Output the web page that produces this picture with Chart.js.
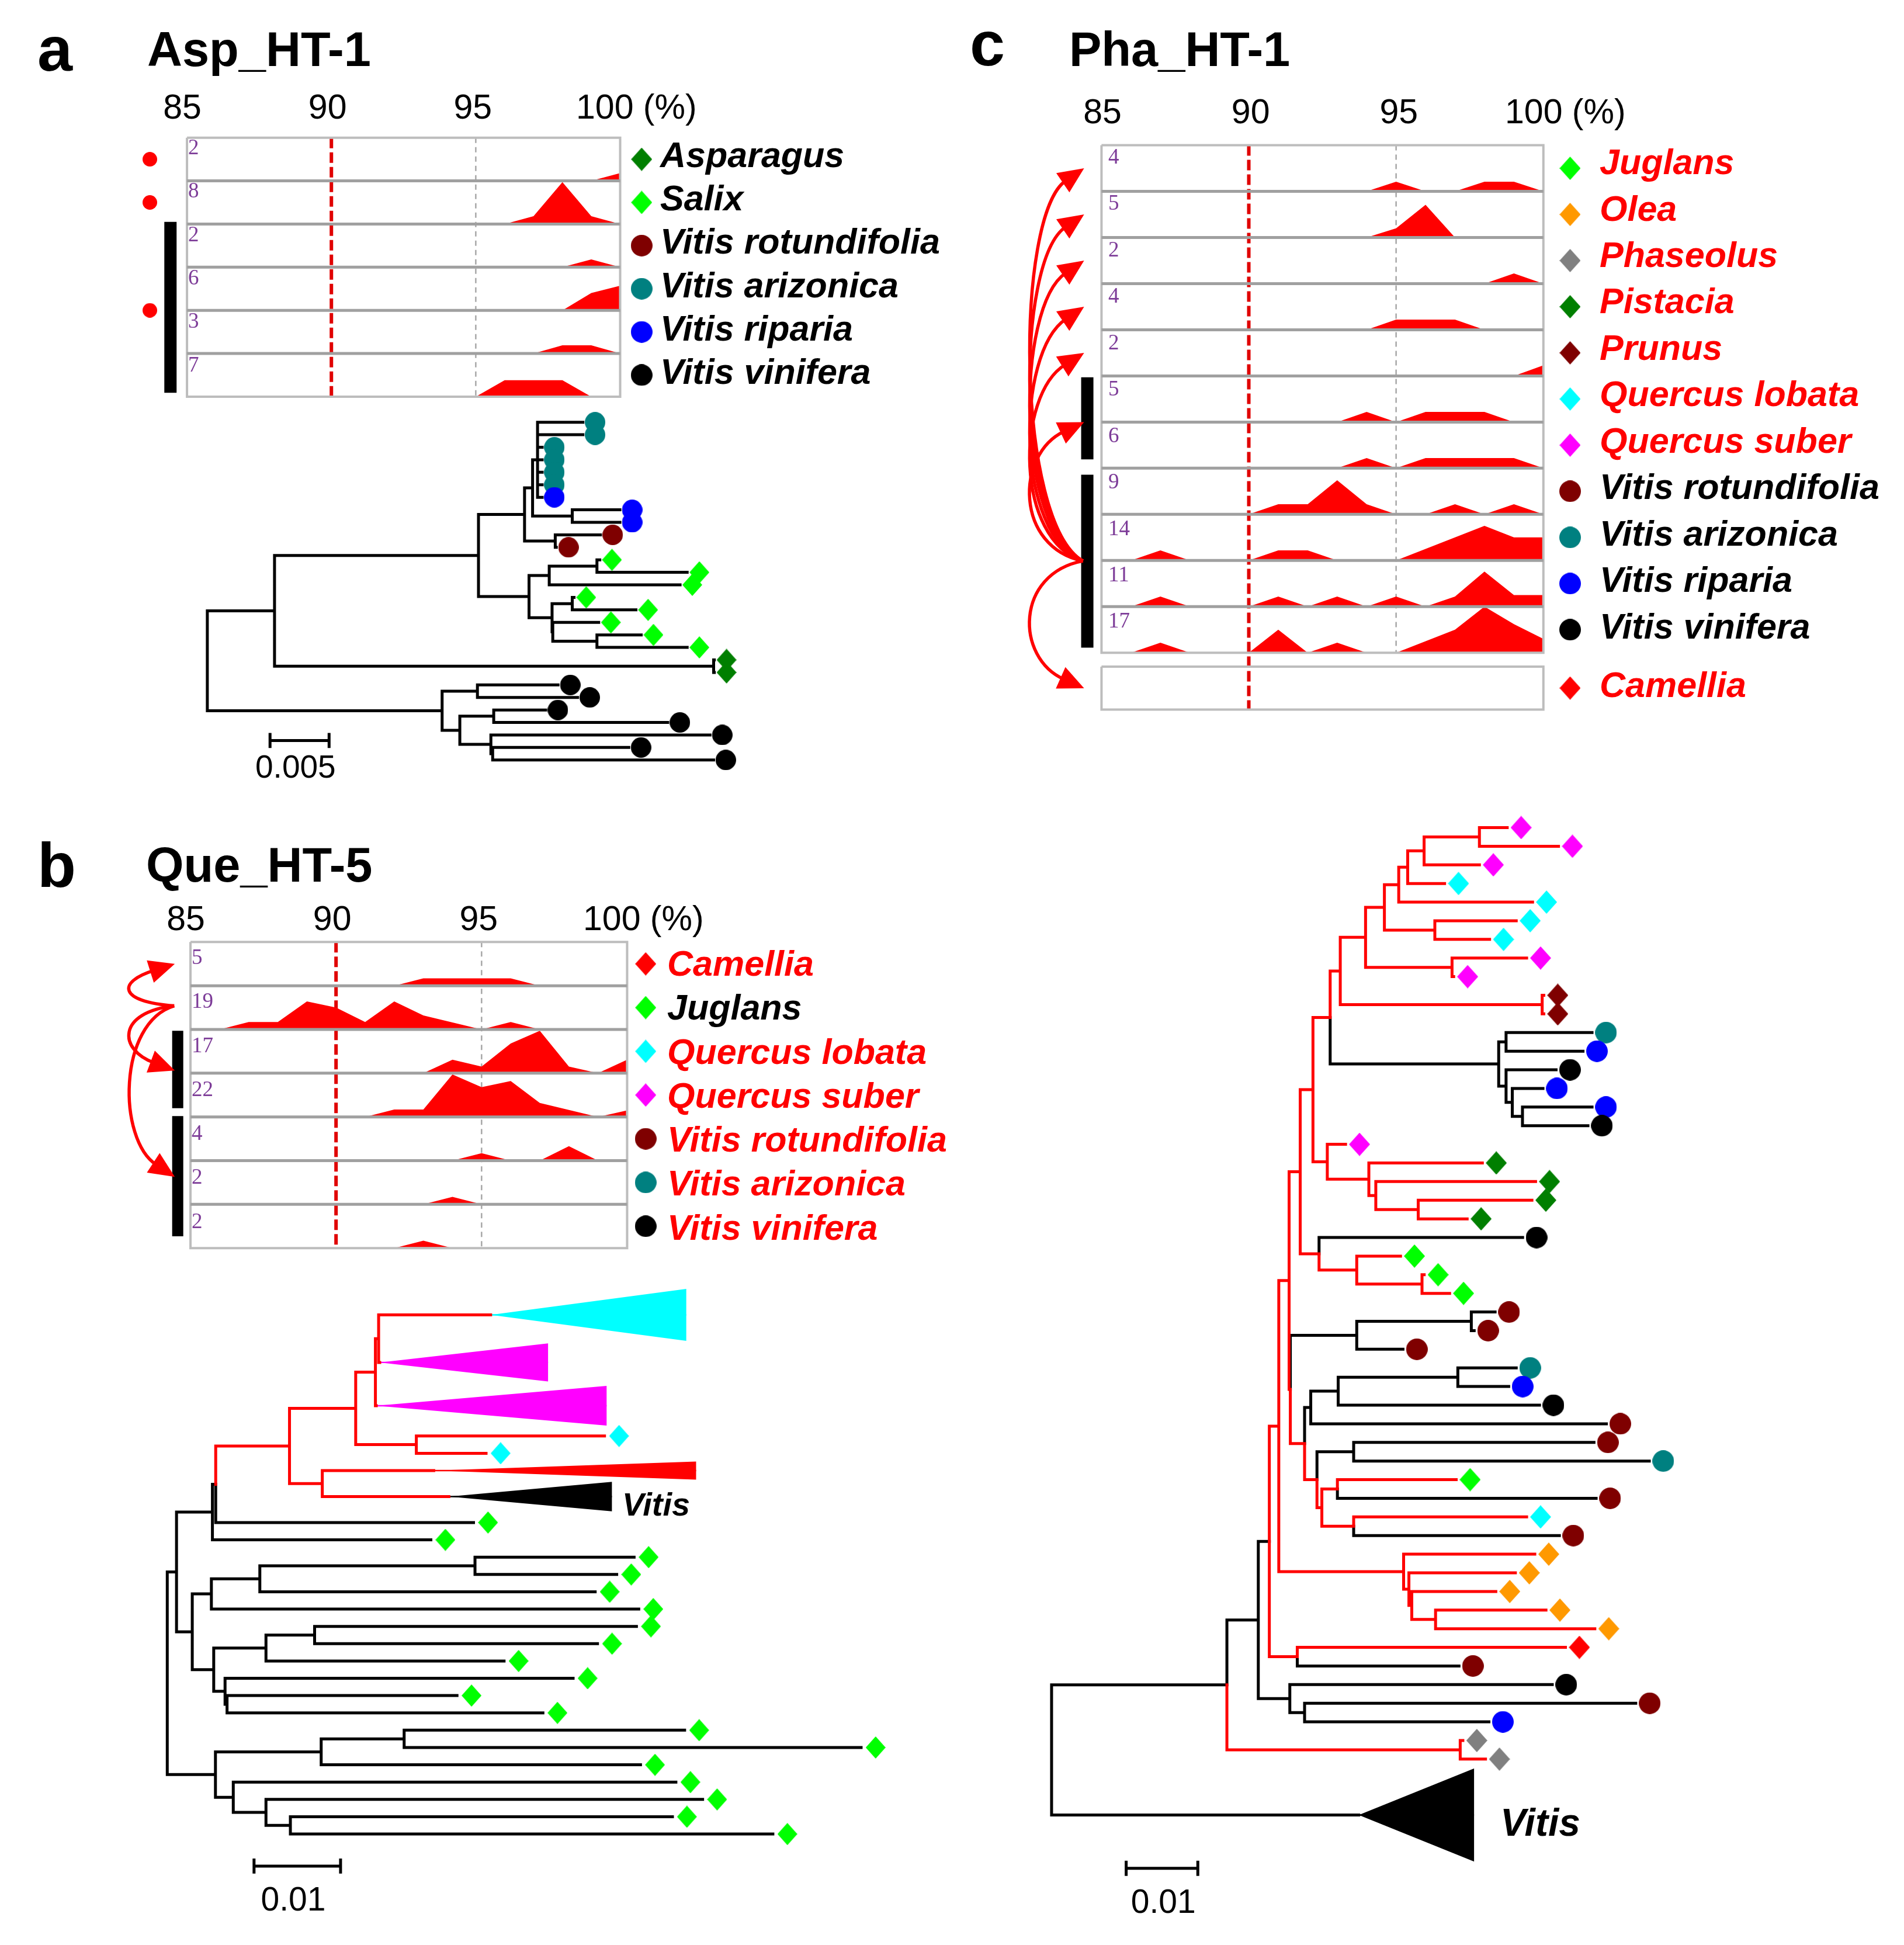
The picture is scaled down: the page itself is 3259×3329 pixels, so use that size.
<!DOCTYPE html>
<html><head><meta charset="utf-8">
<script src="https://cdn.jsdelivr.net/npm/chart.js"></script>
<style>
html,body{margin:0;padding:0;background:#fff;}
#wrap{position:relative;width:3259px;height:3329px;overflow:hidden;background:#fff;}
#cv{position:absolute;left:0;top:0;}
.t{position:absolute;white-space:nowrap;line-height:1;}
</style></head>
<body><div id="wrap"><canvas id="cv" width="3259" height="3329"></canvas></div>
<script>
// ===================== DATA =====================
const ridgeTicks = [85, 90, 95, 100];
const bins = [85,86,87,88,89,90,91,92,93,94,95,96,97,98,99,100];

// panel a : Asp_HT-1
const aSpecies = ['Asparagus','Salix','Vitis rotundifolia','Vitis arizonica','Vitis riparia','Vitis vinifera'];
const aNameColors = ['#000','#000','#000','#000','#000','#000'];
const aCounts = [2, 8, 2, 6, 3, 7];
const aDensity = [
  [0,0,0,0,0,0,0,0,0,0,0,0,0,0,0,0.18],
  [0,0,0,0,0,0,0,0,0,0,0,0,0.18,0.97,0.18,0],
  [0,0,0,0,0,0,0,0,0,0,0,0,0,0,0.18,0],
  [0,0,0,0,0,0,0,0,0,0,0,0,0,0,0.40,0.57],
  [0,0,0,0,0,0,0,0,0,0,0,0,0,0.19,0.19,0],
  [0,0,0,0,0,0,0,0,0,0,0,0.38,0.38,0.38,0,0]
];
const aBars = [[1.95, 5.91]];
const aDots = [0.5, 1.5, 4.0];

// panel b : Que_HT-5
const bSpecies = ['Camellia','Juglans','Quercus lobata','Quercus suber','Vitis rotundifolia','Vitis arizonica','Vitis vinifera'];
const bNameColors = ['#ff0000','#000','#ff0000','#ff0000','#ff0000','#ff0000','#ff0000'];
const bCounts = [5, 19, 17, 22, 4, 2, 2];
const bDensity = [
  [0,0,0,0,0,0,0,0,0.17,0.17,0.17,0.17,0,0,0,0],
  [0,0,0.17,0.17,0.64,0.5,0.17,0.64,0.32,0.16,0,0.17,0,0,0,0],
  [0,0,0,0,0,0,0,0,0,0.31,0.15,0.68,0.97,0.15,0,0.31],
  [0,0,0,0,0,0,0,0.17,0.17,0.97,0.68,0.82,0.32,0.16,0,0.15],
  [0,0,0,0,0,0,0,0,0,0,0.17,0,0,0.33,0,0],
  [0,0,0,0,0,0,0,0,0,0.17,0,0,0,0,0,0],
  [0,0,0,0,0,0,0,0,0.17,0,0,0,0,0,0,0]
];
const bBars = [[2.03, 3.80], [3.98, 6.73]];
const bArrowFrom = 1.46;
const bArrowTo = [0.5, 2.94, 5.37];

// panel c : Pha_HT-1
const cSpecies = ['Juglans','Olea','Phaseolus','Pistacia','Prunus','Quercus lobata','Quercus suber','Vitis rotundifolia','Vitis arizonica','Vitis riparia','Vitis vinifera','Camellia'];
const cNameColors = ['#ff0000','#ff0000','#ff0000','#ff0000','#ff0000','#ff0000','#ff0000','#000','#000','#000','#000','#ff0000'];
const cCounts = [4, 5, 2, 4, 2, 5, 6, 9, 14, 11, 17];
const cDensity = [
  [0,0,0,0,0,0,0,0,0,0,0.21,0,0,0.21,0.21,0],
  [0,0,0,0,0,0,0,0,0,0,0.20,0.71,0,0,0,0],
  [0,0,0,0,0,0,0,0,0,0,0,0,0,0,0.22,0],
  [0,0,0,0,0,0,0,0,0,0,0.22,0.22,0.22,0,0,0],
  [0,0,0,0,0,0,0,0,0,0,0,0,0,0,0,0.23],
  [0,0,0,0,0,0,0,0,0,0.22,0,0.22,0.22,0.22,0,0],
  [0,0,0,0,0,0,0,0,0,0.22,0,0.22,0.22,0.22,0.22,0],
  [0,0,0,0,0,0,0.22,0.22,0.74,0.22,0,0,0.22,0,0.22,0],
  [0,0,0.22,0,0,0,0.22,0.22,0,0,0,0.25,0.5,0.75,0.5,0.5],
  [0,0,0.22,0,0,0,0.22,0,0.22,0,0.22,0,0.22,0.76,0.25,0.25],
  [0,0,0.22,0,0,0,0.5,0,0.22,0,0,0.25,0.5,1.0,0.62,0.3]
];
const cBars = [[5.03, 6.81], [7.14, 10.89]];
const cArrowFrom = 9.01;
const cArrowTo = [0.5, 1.5, 2.5, 3.5, 4.5, 6.0, 11.77];
const cCamelliaBox = [11.30, 12.23];

// species
const ASP='Asparagus', SAL='Salix', JUG='Juglans', OLE='Olea', PHA='Phaseolus', PIS='Pistacia',
      PRU='Prunus', QL='Quercus lobata', QS='Quercus suber', CAM='Camellia',
      VRO='Vitis rotundifolia', VA='Vitis arizonica', VRI='Vitis riparia', VV='Vitis vinifera';

// tree helpers: N = internal node (depth, branch colour, children), T = tip, C = collapsed clade
const N = (d, col, ...kids) => ({d, col, kids});
const T = (d, col, sp) => ({d, col, sp});
const C = (d, end, col, fill, rows, h) => ({d, end, col, fill, rows, h});

// tree a: depth in units of 0.0001
const treeA = N(0,'k',
  N(56.9,'k',
    N(229.6,'k',
      N(268.6,'k',
        N(275.4,'k',
          N(279.6,'k', T(318,'k',VA), T(318,'k',VA), T(283.5,'k',VA), T(283.5,'k',VA), T(283.5,'k',VA), T(283.5,'k',VA), T(283.5,'k',VRI)),
          N(309,'k', T(349.4,'k',VRI), T(349.4,'k',VRI))),
        N(294.6,'k', T(332.9,'k',VRO), T(295.5,'k',VRO))),
      N(272.4,'k',
        N(289.5,'k',
          N(329.9,'k', T(332.3,'k',SAL), T(406.3,'k',SAL)),
          T(400.3,'k',SAL)),
        N(291.9,'k',
          N(309,'k', T(310.5,'k',SAL), T(362.9,'k',SAL)),
          N(292.5,'k', T(331.4,'k',SAL),
            N(329.9,'k', T(367.4,'k',SAL), T(406.3,'k',SAL)))))),
    N(428.7,'k', T(429.3,'k',ASP), T(429.3,'k',ASP))),
  N(198.8,'k',
    N(228.7,'k', T(297,'k',VV), T(313.5,'k',VV)),
    N(213.8,'k',
      N(242.5,'k', T(286.5,'k',VV), T(389.8,'k',VV)),
      N(240.1,'k', T(425.7,'k',VV),
        N(241.6,'k', T(356.9,'k',VV), T(428.7,'k',VV))))));

// tree b: depth in units of 0.001
const treeB = N(0,'k',
  N(1.07,'k',
    N(5.22,'k',
      N(5.60,'k',
        N(14.13,'r',
          N(21.78,'r',
            N(24.06,'r',
              N(24.43,'r', C(37.38,60.0,'r','#00ffff',3,3.0), C(24.56,44.03,'r','#ff00ff',2.5,2.2)),
              C(24.16,50.8,'r','#ff00ff',2.5,2.3)),
            N(28.79,'r', T(50.54,'r',QL), T(36.85,'r',QL))),
          N(17.92,'r', C(30.8,61.14,'r','#ff0000',1,1.05), C(32.55,51.41,'r','#000000',2,1.7))),
        T(35.4,'k',JUG)),
      T(30.47,'k',JUG)),
    N(2.89,'k',
      N(5.10,'k',
        N(10.7,'k', N(35.57,'k', T(53.96,'k',JUG), T(51.95,'k',JUG)), T(49.46,'k',JUG)),
        T(54.5,'k',JUG)),
      N(5.37,'k',
        N(11.41,'k', N(17.03,'k', T(54.23,'k',JUG), T(49.73,'k',JUG)), T(38.93,'k',JUG)),
        N(6.68,'k', T(46.91,'k',JUG), N(6.91,'k', T(33.49,'k',JUG), T(43.42,'k',JUG)))))),
  N(5.57,'k',
    N(17.79,'k', N(27.38,'k', T(59.8,'k',JUG), T(80.2,'k',JUG)), T(54.7,'k',JUG)),
    N(7.63,'k', T(58.79,'k',JUG), N(11.41,'k', T(61.88,'k',JUG), N(14.23,'k', T(58.39,'k',JUG), T(70.0,'k',JUG))))));

// tree c: depth in units of 0.001
const treeC = N(0,'k',
  N(24.47,'k',
    N(28.85,'k',
      N(30.39,'k',
        N(31.71,'r',
          N(33.15,'r',
            N(34.7,'r',
              N(36.48,'r',
                N(38.88,'r',
                  N(40.29,'r',
                    N(43.82,'r',
                      N(46.45,'r',
                        N(48.45,'r',
                          N(49.7,'r',
                            N(51.99,'r',
                              N(59.71,'r', T(63.59,'r',QS), T(70.75,'r',QS)),
                              T(59.71,'r',QS)),
                            T(54.85,'r',QL)),
                          T(67.13,'r',QL)),
                        N(53.49,'r', T(64.85,'r',QL), T(61.13,'r',QL))),
                      N(55.89,'r', T(66.3,'r',QS), T(56.12,'r',QS))),
                    N(68.47,'r', T(68.7,'r',PRU), T(68.7,'r',PRU))),
                  N(62.4,'k',
                    N(63.43,'k', T(75.43,'k',VA), T(74.17,'k',VRI)),
                    N(63.43,'k', T(70.41,'k',VV),
                      N(64.3,'k', T(68.58,'k',VRI),
                        N(65.72,'k', T(75.43,'k',VRI), T(74.86,'k',VV)))))),
                N(38.48,'r',
                  T(41.03,'r',QS),
                  N(44.28,'r', T(60.12,'r',PIS),
                    N(45.25,'r', T(67.55,'r',PIS),
                      N(51.17,'r', T(67.04,'r',PIS), T(58.0,'r',PIS)))))),
              N(37.33,'r',
                T(65.74,'k',VV),
                N(42.59,'r', T(48.7,'r',JUG),
                  N(51.7,'r', T(52.0,'r',JUG), T(55.55,'r',JUG))))),
            N(33.32,'r',
              N(42.59,'k',
                N(58.58,'k', T(61.9,'k',VRO), T(58.98,'k',VRO)),
                T(49.04,'k',VRO)),
              N(35.31,'r',
                N(36.17,'k',
                  N(40.0,'k', N(56.7,'k', T(64.85,'k',VA), T(63.8,'k',VRI)), T(68.1,'k',VV)),
                  T(77.43,'k',VRO)),
                N(37.04,'r',
                  N(42.16,'k', T(75.7,'k',VRO), T(83.42,'k',VA)),
                  N(37.72,'r',
                    N(39.89,'r', T(56.47,'r',JUG), T(76.0,'k',VRO)),
                    N(42.16,'r', T(66.3,'r',QL), T(70.87,'k',VRO))))))),
          N(49.13,'r', T(67.44,'r',OLE),
            N(49.87,'r', T(64.73,'r',OLE),
              N(50.27,'r', T(62.0,'r',OLE),
                N(53.59,'r', T(69.0,'r',OLE), T(75.82,'r',OLE)))))),
        N(34.29,'r', T(71.72,'r',CAM), T(56.86,'k',VRO))),
      N(33.25,'k', T(69.88,'k',VV),
        N(35.31,'k', T(81.53,'k',VRO), T(61.04,'k',VRI)))),
    N(57.03,'r', T(57.4,'r',PHA), T(60.56,'r',PHA))),
  C(42.87, 58.98, 'k', '#000000', 5, 5));

// scale bars: [start, length, row, label]
const scaleBarA = [53.1, 50, 25.44, '0.005'];
const scaleBarB = [10.03, 10, 32.85, '0.01'];
const scaleBarC = [10.41, 10, 55.86, '0.01'];

// ===================== STYLE / LAYOUT =====================
const W = 3259, H = 3329;
const RED = '#ff0000';
const SP = {
  'Asparagus': ['d', '#007f00'], 'Salix': ['d', '#00ff00'], 'Juglans': ['d', '#00ff00'],
  'Olea': ['d', '#ff9900'], 'Phaseolus': ['d', '#808080'], 'Pistacia': ['d', '#007f00'],
  'Prunus': ['d', '#7f0000'], 'Quercus lobata': ['d', '#00ffff'], 'Quercus suber': ['d', '#ff00ff'],
  'Camellia': ['d', '#ff0000'], 'Vitis rotundifolia': ['c', '#7f0000'], 'Vitis arizonica': ['c', '#008080'],
  'Vitis riparia': ['c', '#0000ff'], 'Vitis vinifera': ['c', '#000000']
};
const GEO = {
  a: {x85: 312, x100: 1058, top: 227, rowH: 74.33},
  b: {x85: 318, x100: 1070, top: 1612, rowH: 75.29},
  c: {x85: 1887, x100: 2648, top: 240, rowH: 79.45}
};
const TGEO = {
  a: {x0: 347, ppu: 2.034, y0: 717, rowH: 21.54, gap: 21, dw: 34, dh: 38, cd: 35, lw: 5},
  b: {x0: 278, ppu: 14.9, y0: 2224.2, rowH: 29.8, gap: 25, dw: 34, dh: 38, cd: 35, lw: 5},
  c: {x0: 1801, ppu: 12.34, y0: 1415, rowH: 32.08, gap: 24, dw: 36, dh: 40, cd: 37, lw: 5}
};
const LEGMARK = {dw: 36, dh: 40, cd: 37};
const rppu = g => (g.x100 - g.x85) / 15;
const rx = (g, v) => g.x85 + (v - 85) * rppu(g);
const ry = (g, v) => g.top + v * g.rowH;
const rv = (g, px) => 85 + (px - g.x85) / rppu(g);

const scales = {};
for (const k of ['a','b','c']) {
  const g = GEO[k], p = rppu(g);
  scales['xR'+k] = {type:'linear', axis:'x', position:'bottom', display:false, bounds:'data', min: 85 - g.x85/p, max: 85 + (W - g.x85)/p};
  scales['yR'+k] = {type:'linear', axis:'y', position:'left', display:false, reverse:true, bounds:'data', min: -g.top/g.rowH, max: (H - g.top)/g.rowH};
  const t = TGEO[k];
  scales['xT'+k] = {type:'linear', axis:'x', position:'bottom', display:false, bounds:'data', min: -t.x0/t.ppu, max: (W - t.x0)/t.ppu};
  scales['yT'+k] = {type:'linear', axis:'y', position:'left', display:false, reverse:true, bounds:'data', min: -t.y0/t.rowH, max: (H - t.y0)/t.rowH};
}

const imgCache = {};
function markImg(shape, color, w, h) {
  const key = shape + color + w + 'x' + h;
  if (imgCache[key]) return imgCache[key];
  const c = document.createElement('canvas'); c.width = w; c.height = h;
  const g = c.getContext('2d'); g.fillStyle = color; g.beginPath();
  if (shape === 'd') { g.moveTo(w/2, 0); g.lineTo(w, h/2); g.lineTo(w/2, h); g.lineTo(0, h/2); g.closePath(); }
  else { g.ellipse(w/2, h/2, w/2, h/2, 0, 0, Math.PI*2); }
  g.fill();
  return (imgCache[key] = c);
}
function spImg(sp, m) {
  const s = SP[sp];
  return s[0] === 'd' ? markImg('d', s[1], m.dw, m.dh) : markImg('c', s[1], m.cd, m.cd);
}

const datasets = [];
function lineDS(xid, yid, data, color, width, order, extra) {
  datasets.push(Object.assign({type:'line', xAxisID: xid, yAxisID: yid, data, borderColor: color, backgroundColor: color,
    borderWidth: width, pointRadius: 0, fill: false, order, spanGaps: false, clip: false, tension: 0}, extra || {}));
}
const GAP = {x: null, y: null};

// ===================== RIDGE PANELS =====================
const RIDGES = [
  {k:'a', dens:aDensity, counts:aCounts, names:aSpecies, nameColors:aNameColors, bars:aBars, barX:283.5, barW:21,
   legX:1130, legMarkX:1095, tickBase:204, countOff:37, legOff:22, boxes:[[0,6]], red90:[0,6], gray95:[0,6],
   legRows: aSpecies.map((s,i)=>i+0.5)},
  {k:'b', dens:bDensity, counts:bCounts, names:bSpecies, nameColors:bNameColors, bars:bBars, barX:296, barW:19,
   legX:1142, legMarkX:1102, tickBase:1593, countOff:38, legOff:21, boxes:[[0,7]], red90:[0,7], gray95:[0,7],
   legRows: bSpecies.map((s,i)=>i+0.5)},
  {k:'c', dens:cDensity, counts:cCounts, names:cSpecies, nameColors:cNameColors, bars:cBars, barX:1862.5, barW:21,
   legX:2738, legMarkX:2694, tickBase:212, countOff:40, legOff:19, boxes:[[0,11], cCamelliaBox], red90:[0, cCamelliaBox[1]], gray95:[0,11],
   legRows: cSpecies.map((s,i)=> i < 11 ? i+0.5 : (cCamelliaBox[0]+cCamelliaBox[1])/2)}
];

RIDGES.forEach(P => {
  const g = GEO[P.k], xid = 'xR'+P.k, yid = 'yR'+P.k;
  // density polygons
  P.dens.forEach((row, i) => {
    lineDS(xid, yid, bins.map((b, j) => ({x: b, y: (i + 1) - row[j]})), RED, 0, 3, {fill: {value: i + 1}});
  });
  // box outlines & row separators
  const outline = [], sep = [];
  P.boxes.forEach(([t, b]) => {
    outline.push({x:85,y:t},{x:100,y:t},{x:100,y:b},{x:85,y:b},{x:85,y:t},GAP);
    for (let r = t + 1; r < b - 0.5; r++) sep.push({x:85,y:r},{x:100,y:r},GAP);
  });
  lineDS(xid, yid, sep, '#a0a0a0', 5, 2);
  lineDS(xid, yid, outline, '#bdbdbd', 4, 2, {borderJoinStyle:'miter'});
  // reference lines at 90 % and 95 %
  lineDS(xid, yid, [{x:90,y:P.red90[0]},{x:90,y:P.red90[1]}], '#e00000', 6, 4, {borderDash:[18,7]});
  lineDS(xid, yid, [{x:95,y:P.gray95[0]},{x:95,y:P.gray95[1]}], '#a8a8a8', 2.5, 4, {borderDash:[9,7]});
  // group bars
  const bx = rv(g, P.barX), bd = [];
  P.bars.forEach(([a, b]) => bd.push({x:bx,y:a},{x:bx,y:b},GAP));
  lineDS(xid, yid, bd, '#000000', P.barW, 1, {borderCapStyle:'butt'});
  // legend markers
  const mx = rv(g, P.legMarkX);
  lineDS(xid, yid, P.names.map((s, i) => ({x: mx, y: P.legRows[i]})), '#000', 0, 0,
    {showLine:false, pointRadius:10, pointStyle: P.names.map(s => spImg(s, LEGMARK))});
});
// red dots of panel a
lineDS('xRa', 'yRa', aDots.map(v => ({x: rv(GEO.a, 248), y: v})), RED, 0, 0,
  {showLine:false, pointRadius:10, pointStyle: markImg('c', RED, 25, 25)});

// ===================== TREES =====================
function buildTree(root, k, bar) {
  const t = TGEO[k];
  let c = 0;
  (function place(n) {
    if (n.kids) { n.kids.forEach(place); n.y = (n.kids[0].y + n.kids[n.kids.length - 1].y) / 2; }
    else { const s = n.rows || 1; n.y = c + s/2 - 0.5; c += s; }
  })(root);
  const seg = {r: [], k: []}, tips = [], clades = [];
  (function walk(n) {
    n.kids.forEach(ch => {
      seg[ch.col].push({x: n.d, y: n.y}, {x: n.d, y: ch.y}, {x: ch.d, y: ch.y}, GAP);
      if (ch.kids) walk(ch); else if (ch.sp) tips.push(ch); else clades.push(ch);
    });
  })(root);
  const xid = 'xT'+k, yid = 'yT'+k;
  clades.forEach(cl => {
    lineDS(xid, yid, [{x: cl.d, y: cl.y}, {x: cl.end, y: cl.y - cl.h/2}], cl.fill, 0, 8, {fill: {value: cl.y + 0.04}});
    lineDS(xid, yid, [{x: cl.d, y: cl.y}, {x: cl.end, y: cl.y + cl.h/2}], cl.fill, 0, 8, {fill: {value: cl.y - 0.04}});
  });
  lineDS(xid, yid, seg.k, '#000000', t.lw, 6, {borderCapStyle:'square'});
  lineDS(xid, yid, seg.r, RED, t.lw, 5, {borderCapStyle:'square'});
  lineDS(xid, yid, tips.map(tp => ({x: tp.d + t.gap / t.ppu, y: tp.y})), '#000', 0, 0,
    {showLine:false, pointRadius:10, pointStyle: tips.map(tp => spImg(tp.sp, t))});
  // scale bar
  const [x0, len, yb] = bar;
  lineDS(xid, yid, [{x:x0,y:yb},{x:x0+len,y:yb},GAP,{x:x0,y:yb-13/t.rowH},{x:x0,y:yb+13/t.rowH},GAP,
    {x:x0+len,y:yb-13/t.rowH},{x:x0+len,y:yb+13/t.rowH}], '#000000', 5, 5);
}
buildTree(treeA, 'a', scaleBarA);
buildTree(treeB, 'b', scaleBarB);
buildTree(treeC, 'c', scaleBarC);

// ===================== ARROWS PLUGIN =====================
const ARROW_SETS = [
  {xid:'xRb', yid:'yRb', g: GEO.b, fromPx: 290, toPx: 291, from: bArrowFrom, to: bArrowTo, bulge: 97},
  {xid:'xRc', yid:'yRc', g: GEO.c, fromPx: 1855, toPx: 1857, from: cArrowFrom, to: cArrowTo, bulge: 116}
];
const arrowPlugin = {
  id: 'hgtArrows',
  afterDatasetsDraw(chart) {
    const ctx = chart.ctx;
    ARROW_SETS.forEach(s => {
      const X = chart.scales[s.xid], Y = chart.scales[s.yid];
      const x0 = X.getPixelForValue(rv(s.g, s.fromPx)), y0 = Y.getPixelForValue(s.from);
      const xt = X.getPixelForValue(rv(s.g, s.toPx));
      s.to.forEach(tv => {
        const yt = Y.getPixelForValue(tv);
        const dy = yt - y0, sg = Math.sign(dy);
        const xc = x0 - s.bulge;
        const f = Math.min(80, 20 + 0.15 * Math.abs(dy));
        const p1 = [xc, y0 + dy * 0.1], p2 = [xc, yt - sg * f];
        let ux = xt - p2[0], uy = yt - p2[1];
        const L = Math.hypot(ux, uy); ux /= L; uy /= L;
        const AL = 44, AW = 20;
        const bx = xt - ux * AL, by = yt - uy * AL;
        ctx.save();
        ctx.strokeStyle = RED; ctx.fillStyle = RED; ctx.lineWidth = 5.5;
        ctx.beginPath(); ctx.moveTo(x0, y0);
        ctx.bezierCurveTo(p1[0], p1[1], p2[0], p2[1], bx + ux * 6, by + uy * 6);
        ctx.stroke();
        ctx.beginPath(); ctx.moveTo(xt, yt);
        ctx.lineTo(bx - uy * AW, by + ux * AW); ctx.lineTo(bx + uy * AW, by - ux * AW);
        ctx.closePath(); ctx.fill();
        ctx.restore();
      });
    });
  }
};

new Chart(document.getElementById('cv'), {
  type: 'line',
  data: {datasets},
  options: {
    responsive: false, maintainAspectRatio: false, animation: false, events: [],
    layout: {padding: 0},
    plugins: {legend: {display: false}, tooltip: {enabled: false}, title: {display: false}},
    elements: {point: {radius: 0, hoverRadius: 0}, line: {tension: 0}},
    scales
  },
  plugins: [arrowPlugin]
});

// ===================== TEXT =====================
const wrap = document.getElementById('wrap');
function txt(s, x, base, size, o) {
  o = o || {};
  const d = document.createElement('div');
  d.className = 't';
  d.textContent = s;
  d.style.fontFamily = o.serif ? '"Liberation Serif","Times New Roman",serif' : '"Liberation Sans",Arial,Helvetica,sans-serif';
  d.style.fontSize = size + 'px';
  d.style.fontWeight = o.bold ? 'bold' : 'normal';
  d.style.fontStyle = o.italic ? 'italic' : 'normal';
  d.style.color = o.color || '#000';
  d.style.top = (base - (o.serif ? 0.838 : 0.846) * size) + 'px';
  d.style.left = x + 'px';
  if (o.align === 'center') d.style.transform = 'translateX(-50%)';
  wrap.appendChild(d);
}
// panel letters and titles
txt('a', 64, 121, 108, {bold: true});
txt('Asp_HT-1', 252, 113, 83, {bold: true});
txt('b', 64, 1518, 108, {bold: true});
txt('Que_HT-5', 250, 1509, 83, {bold: true});
txt('c', 1660, 112, 108, {bold: true});
txt('Pha_HT-1', 1830, 113, 83, {bold: true});

RIDGES.forEach(P => {
  const g = GEO[P.k];
  ridgeTicks.forEach(v => {
    if (v < 100) txt(String(v), rx(g, v), P.tickBase, 59, {align: 'center'});
    else txt(v + ' (%)', rx(g, v) - 72, P.tickBase, 59);
  });
  P.counts.forEach((n, i) => txt(String(n), g.x85 + 10, ry(g, i) + P.countOff, 37, {serif: true, color: '#7d3c98'}));
  P.names.forEach((s, i) => txt(s, P.legX, ry(g, P.legRows[i]) + P.legOff, 61, {bold: true, italic: true, color: P.nameColors[i]}));
});

// scale bar labels and collapsed-clade labels
[[scaleBarA, 'a', 55], [scaleBarB, 'b', 57], [scaleBarC, 'c', 57]].forEach(([b, k, fs]) => {
  const t = TGEO[k];
  const cx = t.x0 + (b[0] + b[1] / 2) * t.ppu;
  const cy = t.y0 + b[2] * t.rowH;
  txt(b[3], cx, cy + 67, fs, {align: 'center'});
});
txt('Vitis', 1065, 2594, 56, {bold: true, italic: true});
txt('Vitis', 2568, 3142, 66, {bold: true, italic: true});
</script></body></html>
